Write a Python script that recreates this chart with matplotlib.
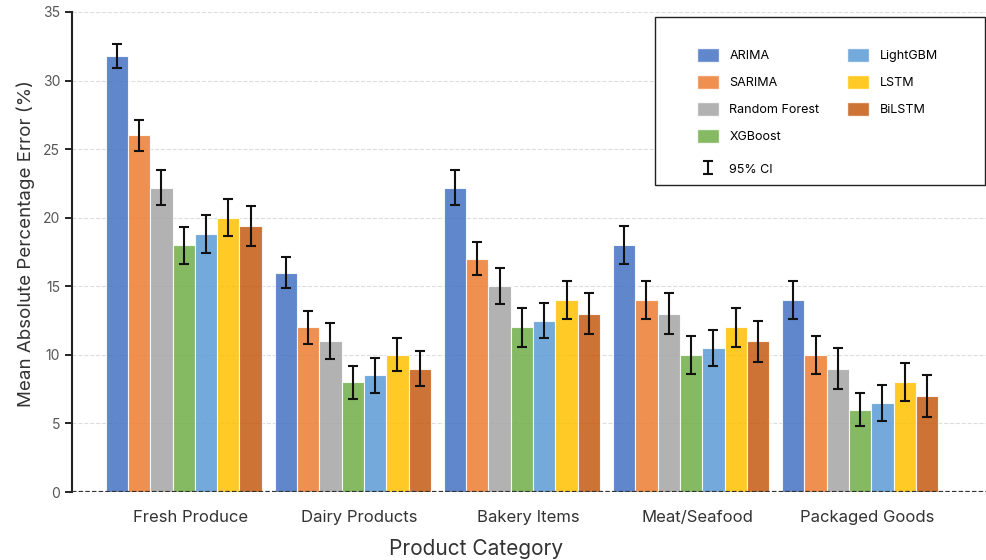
import numpy as np
import matplotlib.pyplot as plt
from matplotlib.patches import Patch, Rectangle

plt.rcParams['font.family'] = ['Inter', 'DejaVu Sans']

# Data
categories = ['Fresh Produce', 'Dairy Products', 'Bakery Items', 'Meat/Seafood', 'Packaged Goods']
models = ['ARIMA', 'SARIMA', 'Random Forest', 'XGBoost', 'LightGBM', 'LSTM', 'BiLSTM']
colors = ['#4472C4', '#ED7D31', '#A5A5A5', '#70AD47', '#5B9BD5', '#FFC000', '#C55A11']

arima = [31.8, 16.0, 22.2, 18.0, 14.0]
sarima = [26.0, 12.0, 17.0, 14.0, 10.0]
random_forest = [22.2, 11.0, 15.0, 13.0, 9.0]
xgboost = [18.0, 8.0, 12.0, 10.0, 6.0]
lightgbm = [18.8, 8.5, 12.5, 10.5, 6.5]
lstm = [20.0, 10.0, 14.0, 12.0, 8.0]
bilstm = [19.4, 9.0, 13.0, 11.0, 7.0]

arima_ci = [0.9, 1.1, 1.3, 1.4, 1.4]
sarima_ci = [1.1, 1.2, 1.2, 1.4, 1.4]
random_forest_ci = [1.3, 1.3, 1.3, 1.5, 1.5]
xgboost_ci = [1.35, 1.2, 1.4, 1.4, 1.2]
lightgbm_ci = [1.4, 1.3, 1.3, 1.3, 1.3]
lstm_ci = [1.35, 1.2, 1.4, 1.4, 1.4]
bilstm_ci = [1.45, 1.3, 1.5, 1.5, 1.5]

values = [arima, sarima, random_forest, xgboost, lightgbm, lstm, bilstm]
cis = [arima_ci, sarima_ci, random_forest_ci, xgboost_ci, lightgbm_ci, lstm_ci, bilstm_ci]

fig = plt.figure(figsize=(9.87, 5.6), dpi=100)
ax = fig.add_axes([0.073, 0.1214, 0.927, 0.8572])

x = np.arange(len(categories))
width = 0.132

handles = []
for i, (name, vals, err, col) in enumerate(zip(models, values, cis, colors)):
    pos = x + (i - 3) * width
    ax.bar(pos, vals, width, color=col, alpha=0.85, edgecolor='white', linewidth=0.8, zorder=2)
    ax.errorbar(pos, vals, yerr=err, fmt='none', ecolor='#111111', elinewidth=1.5,
                capsize=3.5, capthick=1.5, zorder=3)
    handles.append(Patch(facecolor=col, alpha=0.85, edgecolor='white', label=name))

ax.set_ylim(0, 35)
ax.set_xlim(-0.66, 4.75)
ax.set_yticks(range(0, 36, 5))
ax.set_xticks(x + 0.04)
ax.set_xticklabels(categories, fontsize=12, color='#333333')
ax.tick_params(axis='x', length=0, pad=13)
ax.tick_params(axis='y', labelsize=10, labelcolor='#555555', length=5, width=1.2)

ax.yaxis.grid(True, linestyle='--', color='#dddddd', linewidth=0.8, zorder=0)
ax.set_axisbelow(True)
for s in ['top', 'right']:
    ax.spines[s].set_visible(False)
ax.spines['left'].set_linewidth(1.5)
ax.spines['left'].set_color('#222222')
ax.spines['bottom'].set_visible(False)
ax.axhline(0, color='#333333', linestyle=(0, (2, 1)), linewidth=1.6, zorder=4)

ax.set_ylabel('Mean Absolute Percentage Error (%)', fontsize=13.5, color='#333333')
ax.yaxis.set_label_coords(-0.04, 0.517)
ax.set_xlabel('Product Category', fontsize=15, color='#333333')
ax.xaxis.set_label_coords(0.4415, -0.097)

# legend frame drawn by hand, entries placed inside it
ax.add_patch(Rectangle((0.637, 0.6396), 0.361, 0.35, transform=ax.transAxes,
                       facecolor='white', edgecolor='#222222', linewidth=1.0, zorder=5,
                       clip_on=False))
blank = Patch(facecolor='none', edgecolor='none', label='')
leg = ax.legend(handles[:4] + handles[4:] + [blank], models + [''], ncol=2,
                loc='upper left', bbox_to_anchor=(0.683, 0.925),
                fontsize=9, frameon=False, borderpad=0, borderaxespad=0,
                labelspacing=1.05, handlelength=1.75, handleheight=1.3,
                handletextpad=0.85, columnspacing=2.2)
leg.set_zorder(6)
ax.add_artist(leg)

ci = ax.errorbar([np.nan], [np.nan], yerr=[1], fmt='none', ecolor='#111111', elinewidth=1.5,
                 capsize=3.5, capthick=1.5)
leg_ci = ax.legend([ci], ['95% CI'], loc='upper left', bbox_to_anchor=(0.683, 0.687),
                   fontsize=9, frameon=False, borderpad=0, borderaxespad=0,
                   handlelength=1.75, handleheight=1.3, handletextpad=0.85)
leg_ci.set_zorder(6)

plt.savefig('out.png', dpi=100)
